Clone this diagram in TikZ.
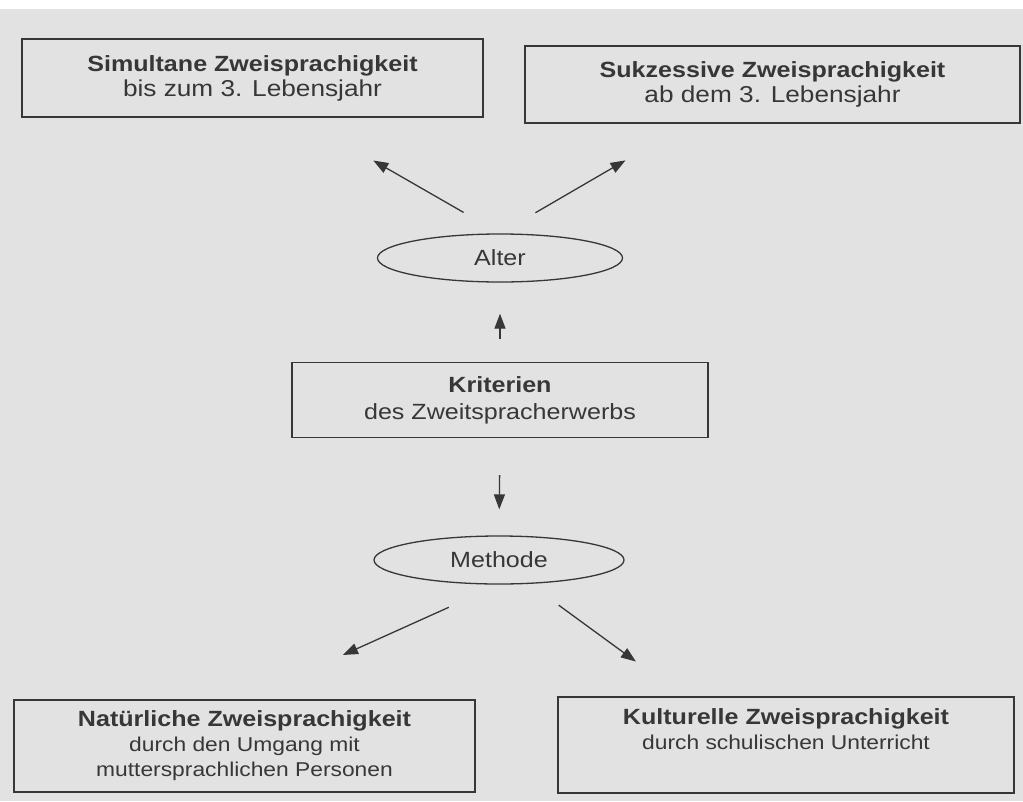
\documentclass[tikz,border=0pt]{standalone}
\usepackage{fontspec}
\setmainfont[FakeStretch=1.14]{Liberation Sans}
\usetikzlibrary{calc,arrows.meta,shapes.geometric,positioning}

\definecolor{scan}{RGB}{226,226,226}
\definecolor{ink}{RGB}{55,55,55}

\begin{document}
\begin{tikzpicture}[x=1pt,y=-1pt,
    kasten/.style={draw=ink, line width=1.3pt, inner sep=0pt, align=center, text=ink,
        font=\fontsize{22}{25}\selectfont},
    oval/.style={draw=ink, line width=1.3pt, ellipse, inner sep=0pt, text=ink,
        font=\fontsize{22}{25}\selectfont},
    pfeil/.style={draw=ink, line width=1.3pt, -{Triangle[length=15pt,width=11pt]}}]
    % Hintergrund (Scan)
    \fill[scan] (0,0) rectangle (1023,801);
    \fill[white] (0,0) rectangle (1023,9);
    \useasboundingbox (0,0) rectangle (1023,801);

    % obere Kaesten
    \node[kasten, minimum width=461pt, minimum height=78pt] (sim) at (252.5,78)
        {\textbf{Simultane Zweisprachigkeit}\\ {\fontsize{23}{25}\selectfont bis zum 3. Lebensjahr}};
    \node[kasten, minimum width=495pt, minimum height=77pt] (suk) at (772.5,84.5)
        {\textbf{Sukzessive Zweisprachigkeit}\\ {\fontsize{23}{25}\selectfont ab dem 3. Lebensjahr}};

    % Mitte
    \node[oval, minimum width=245pt, minimum height=48pt] (alter) at (500,258) {Alter};
    \node[kasten, minimum width=416pt, minimum height=75pt, font=\fontsize{22}{27}\selectfont] (krit) at (500,400)
        {\textbf{Kriterien}\\ des Zweitspracherwerbs};
    \node[oval, minimum width=250pt, minimum height=48pt] (meth) at (499,560) {Methode};

    % untere Kaesten
    \node[kasten, minimum width=461pt, minimum height=92pt] (nat) at (244.5,746)
        {\textbf{Natürliche Zweisprachigkeit}\\ {\fontsize{20}{23}\selectfont durch den Umgang mit}\\
         {\fontsize{20}{23}\selectfont muttersprachlichen Personen}};
    \node[kasten, minimum width=456pt, minimum height=96pt] (kult) at (786,745)
        {\textbf{Kulturelle Zweisprachigkeit}\\ {\fontsize{20}{23}\selectfont durch schulischen Unterricht}\\
         {\fontsize{20}{23}\selectfont\strut}};

    % Pfeile
    \draw[pfeil, shorten <=42pt, shorten >=86pt] (alter.north) -- ($(sim.south west)!0.6!(sim.south east)$);
    \draw[pfeil, shorten <=41pt, shorten >=73pt] (alter.north) -- ($(suk.south west)!0.331!(suk.south east)$);
    \draw[pfeil, shorten <=23pt, shorten >=31pt] (krit.north) -- (alter.south);
    \draw[pfeil, shorten <=37pt, shorten >=26pt] (krit.south) -- (meth.north);
    \draw[pfeil, shorten <=55pt, shorten >=108pt] (meth.south) -- (nat.north);
    \draw[pfeil, shorten <=36pt, shorten >=59pt] (meth.-38) -- ($(kult.north west)!0.276!(kult.north east)$);
\end{tikzpicture}
\end{document}
